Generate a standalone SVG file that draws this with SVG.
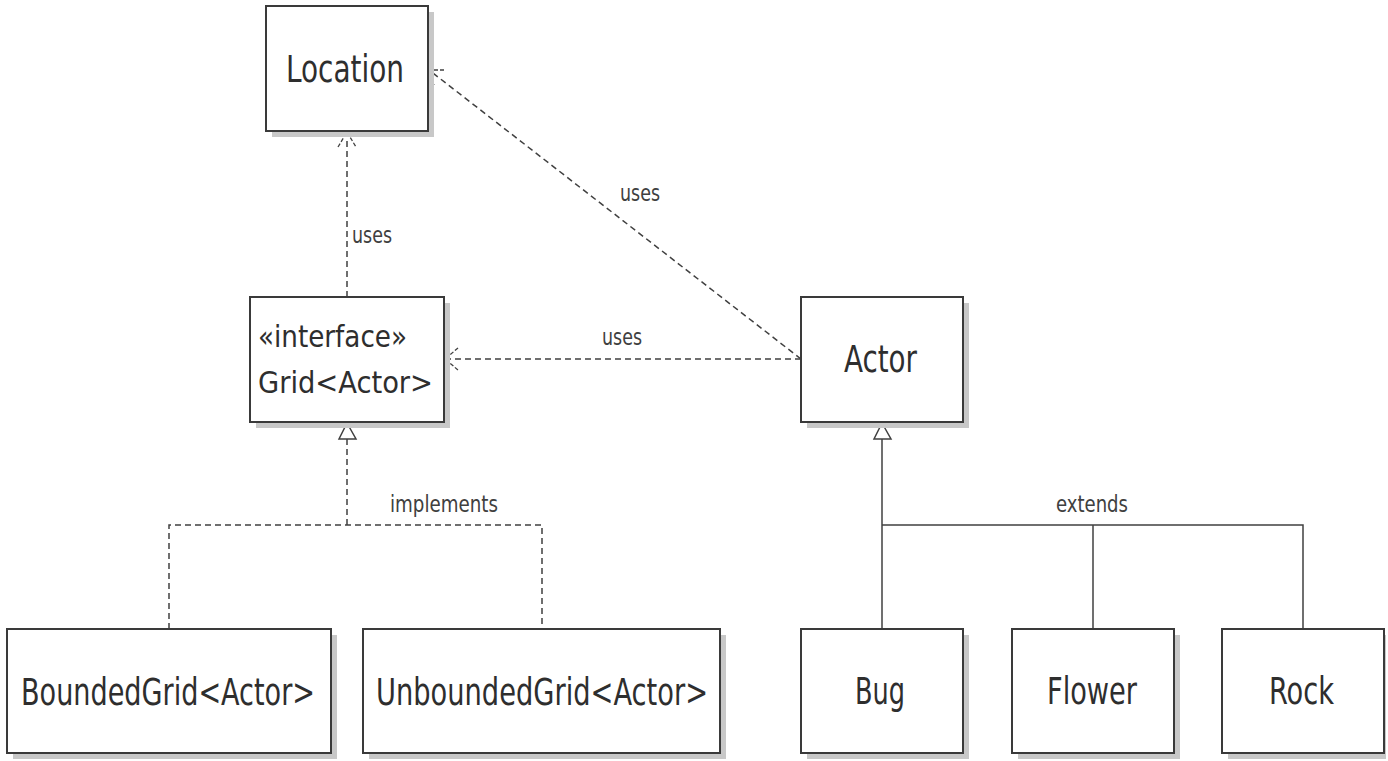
<svg xmlns="http://www.w3.org/2000/svg" width="1388" height="761" viewBox="0 0 1388 761">
<style>
.shadow{fill:#c8c8c8;stroke:none}
.box{fill:#ffffff;stroke:#3a3a3a;stroke-width:2}
.name{font-family:"DejaVu Sans Condensed","DejaVu Sans",sans-serif;font-size:37px;fill:#2e2e2e}
.iname{font-family:"DejaVu Sans Condensed","DejaVu Sans",sans-serif;font-size:30px;fill:#2e2e2e}
.lbl{font-family:"DejaVu Sans Condensed","DejaVu Sans",sans-serif;font-size:23px;fill:#404040}
.dash{fill:none;stroke:#404040;stroke-width:1.5;stroke-dasharray:6,4}
.solid{fill:none;stroke:#404040;stroke-width:1.5}
.head{fill:none;stroke:#404040;stroke-width:1.3;stroke-dasharray:4,2}
.tri{fill:#ffffff;stroke:#404040;stroke-width:1.5}
.dot{fill:#303030}
</style>
<rect width="1388" height="761" fill="#ffffff"/>
<g id="connectors">
  <!-- Grid uses Location -->
  <line class="dash" x1="347" y1="297" x2="347" y2="132"/>
  <path class="head" d="M338,147 L347,132 L356,147"/>
  <circle class="dot" cx="347" cy="132" r="1.6"/>
  <text class="lbl" x="352" y="243" textLength="40" lengthAdjust="spacingAndGlyphs">uses</text>
  <!-- Actor uses Grid -->
  <line class="dash" x1="801" y1="359" x2="445" y2="359"/>
  <path class="head" d="M458,348 L445,359 L458,370"/>
  <circle class="dot" cx="445" cy="359" r="1.6"/>
  <text class="lbl" x="602" y="345" textLength="40" lengthAdjust="spacingAndGlyphs">uses</text>
  <!-- Actor uses Location -->
  <line class="dash" x1="801" y1="359" x2="429" y2="70"/>
  <path class="head" d="M444,70 L429,70 L434,85"/>
  <circle class="dot" cx="429" cy="70" r="1.6"/>
  <text class="lbl" x="620" y="201" textLength="40" lengthAdjust="spacingAndGlyphs">uses</text>
  <!-- implements -->
  <polyline class="dash" points="169,629 169,525 542,525 542,629"/>
  <line class="dash" x1="347" y1="525" x2="347" y2="439"/>
  <polygon class="tri" points="347,423 339,439 356,439"/>
  <text class="lbl" x="390" y="512" textLength="108" lengthAdjust="spacingAndGlyphs">implements</text>
  <!-- extends -->
  <line class="solid" x1="882" y1="629" x2="882" y2="439"/>
  <polyline class="solid" points="882,525 1303,525 1303,629"/>
  <line class="solid" x1="1093" y1="525" x2="1093" y2="629"/>
  <polygon class="tri" points="882,423 874,439 891,439"/>
  <text class="lbl" x="1056" y="512" textLength="72" lengthAdjust="spacingAndGlyphs">extends</text>
</g>
<g id="Location">
  <rect class="shadow" x="272" y="12" width="162" height="125"/>
  <rect class="box" x="266" y="6" width="162" height="125"/>
  <text class="name" x="286" y="82" textLength="118" lengthAdjust="spacingAndGlyphs">Location</text>
</g>
<g id="Grid">
  <rect class="shadow" x="256" y="303" width="194" height="125"/>
  <rect class="box" x="250" y="297" width="194" height="125"/>
  <text class="iname" x="258" y="347" textLength="149" lengthAdjust="spacingAndGlyphs">«interface»</text>
  <text class="iname" x="258" y="393" textLength="175" lengthAdjust="spacingAndGlyphs">Grid&lt;Actor&gt;</text>
</g>
<g id="Actor">
  <rect class="shadow" x="807" y="303" width="162" height="125"/>
  <rect class="box" x="801" y="297" width="162" height="125"/>
  <text class="name" x="844" y="372" textLength="73" lengthAdjust="spacingAndGlyphs">Actor</text>
</g>
<g id="BoundedGrid">
  <rect class="shadow" x="13" y="635" width="324" height="124"/>
  <rect class="box" x="7" y="629" width="324" height="124"/>
  <text class="name" x="21" y="705" textLength="294" lengthAdjust="spacingAndGlyphs">BoundedGrid&lt;Actor&gt;</text>
</g>
<g id="UnboundedGrid">
  <rect class="shadow" x="369" y="635" width="357" height="124"/>
  <rect class="box" x="363" y="629" width="357" height="124"/>
  <text class="name" x="376" y="705" textLength="332" lengthAdjust="spacingAndGlyphs">UnboundedGrid&lt;Actor&gt;</text>
</g>
<g id="Bug">
  <rect class="shadow" x="807" y="635" width="162" height="124"/>
  <rect class="box" x="801" y="629" width="162" height="124"/>
  <text class="name" x="855" y="704" textLength="50" lengthAdjust="spacingAndGlyphs">Bug</text>
</g>
<g id="Flower">
  <rect class="shadow" x="1018" y="635" width="162" height="124"/>
  <rect class="box" x="1012" y="629" width="162" height="124"/>
  <text class="name" x="1047" y="704" textLength="90" lengthAdjust="spacingAndGlyphs">Flower</text>
</g>
<g id="Rock">
  <rect class="shadow" x="1228" y="635" width="158" height="124"/>
  <rect class="box" x="1222" y="629" width="162" height="124"/>
  <text class="name" x="1269" y="704" textLength="65" lengthAdjust="spacingAndGlyphs">Rock</text>
</g>
</svg>
